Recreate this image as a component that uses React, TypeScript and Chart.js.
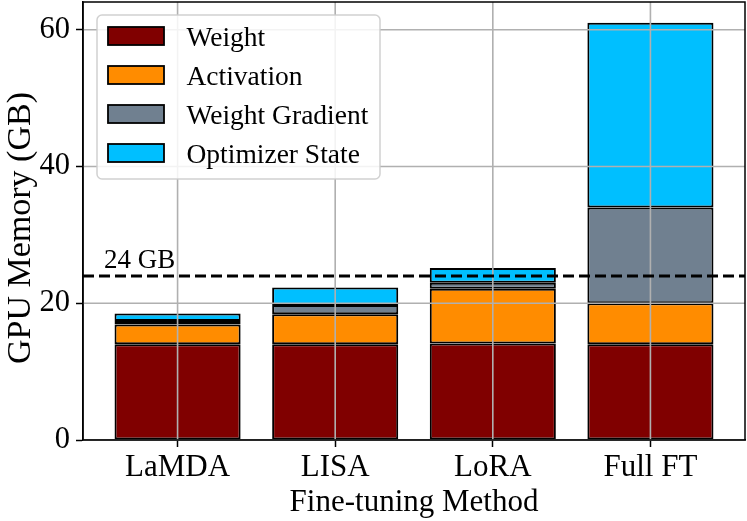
import { useEffect, useRef } from "react";
import { Chart, registerables } from "chart.js";

Chart.register(...registerables);

const categories = ["LaMDA", "LISA", "LoRA", "Full FT"];
const seriesNames = ["Weight", "Activation", "Weight Gradient", "Optimizer State"];
const weight = [14.0, 14.0, 14.1, 14.0];
const activation = [2.9, 4.4, 8.0, 6.0];
const weightGradient = [0.5, 1.35, 0.9, 14.0];
const optimizerState = [1.1, 2.55, 2.15, 27.0];
const yTicks = [0, 20, 40, 60];
const limitValue = 24;
const limitLabel = "24 GB";
const xTitle = "Fine-tuning Method";
const yTitle = "GPU Memory (GB)";

const colors = ["#800000", "#ff8c00", "#708090", "#00bfff"];
const FONT = "'Liberation Serif', 'Times New Roman', serif";

const overlay = {
  id: "overlay",
  afterDatasetsDraw(chart: any) {
    const { ctx, chartArea: a, scales } = chart;
    const xs = scales.x;
    const ys = scales.y;
    ctx.save();
    ctx.strokeStyle = "#b0b0b0";
    ctx.lineWidth = 1.6;
    ctx.beginPath();
    yTicks.forEach((v) => {
      const py = ys.getPixelForValue(v);
      ctx.moveTo(a.left, py);
      ctx.lineTo(a.right, py);
    });
    categories.forEach((_, i) => {
      const px = xs.getPixelForValue(i);
      ctx.moveTo(px, a.top);
      ctx.lineTo(px, a.bottom);
    });
    ctx.stroke();

    // limit line
    const ly = ys.getPixelForValue(limitValue);
    ctx.strokeStyle = "#000";
    ctx.lineWidth = 3;
    ctx.setLineDash([11, 5]);
    ctx.beginPath();
    ctx.moveTo(a.left, ly);
    ctx.lineTo(a.right, ly);
    ctx.stroke();
    ctx.setLineDash([]);

    ctx.fillStyle = "#000";
    ctx.font = `27px ${FONT}`;
    ctx.textBaseline = "alphabetic";
    ctx.textAlign = "left";
    ctx.fillText(limitLabel, a.left + 21, ly - 7.5);
    ctx.restore();
  },
  afterDraw(chart: any) {
    const { ctx, chartArea: a } = chart;
    ctx.save();
    // spines
    ctx.strokeStyle = "#000";
    ctx.lineWidth = 1.5;
    ctx.strokeRect(a.left, a.top, a.right - a.left, a.bottom - a.top);

    // y axis title
    ctx.save();
    ctx.translate(21.5, (a.top + a.bottom) / 2 + 7);
    ctx.rotate(-Math.PI / 2);
    ctx.fillStyle = "#000";
    ctx.font = `34px ${FONT}`;
    ctx.textAlign = "center";
    ctx.textBaseline = "middle";
    ctx.fillText(yTitle, 0, 0);
    ctx.restore();

    // legend
    const lx = a.left + 14;
    const ly = a.top + 13;
    const lw = 283;
    const lh = 164;
    const r = 5;
    ctx.beginPath();
    ctx.moveTo(lx + r, ly);
    ctx.arcTo(lx + lw, ly, lx + lw, ly + lh, r);
    ctx.arcTo(lx + lw, ly + lh, lx, ly + lh, r);
    ctx.arcTo(lx, ly + lh, lx, ly, r);
    ctx.arcTo(lx, ly, lx + lw, ly, r);
    ctx.closePath();
    ctx.fillStyle = "rgba(255,255,255,0.85)";
    ctx.fill();
    ctx.strokeStyle = "rgba(204,204,204,0.9)";
    ctx.lineWidth = 1.5;
    ctx.stroke();

    chart.data.datasets.forEach((ds: any, i: number) => {
      const py = ly + 12 + 39 * i;
      ctx.fillStyle = ds.backgroundColor;
      ctx.fillRect(lx + 11, py, 56, 18);
      ctx.strokeStyle = "#000";
      ctx.lineWidth = 1.8;
      ctx.strokeRect(lx + 11, py, 56, 18);
      ctx.fillStyle = "#000";
      ctx.font = `27.5px ${FONT}`;
      ctx.textBaseline = "alphabetic";
      ctx.textAlign = "left";
      ctx.fillText(ds.label, lx + 89.5, py + 18.5);
    });
    ctx.restore();
  },
};

export default function App() {
  const ref = useRef<HTMLCanvasElement | null>(null);

  useEffect(() => {
    if (!ref.current) return;
    const series = [weight, activation, weightGradient, optimizerState];
    const chart = new Chart(ref.current, {
      type: "bar",
      data: {
        datasets: series.map((vals, s) => ({
          label: seriesNames[s],
          data: vals.map((v, i) => ({ x: i, y: v })),
          backgroundColor: colors[s],
          borderColor: "#000",
          borderWidth: 2,
          borderSkipped: false,
          barPercentage: 0.8,
          categoryPercentage: 1.0,
        })),
      },
      options: {
        responsive: false,
        animation: false,
        devicePixelRatio: 1,
        layout: { padding: { top: 2, right: 2, left: 0, bottom: 0 } },
        plugins: {
          legend: { display: false },
          tooltip: { enabled: false },
        },
        scales: {
          x: {
            type: "linear",
            stacked: true,
            offset: false,
            min: -0.6,
            max: 3.6,
            afterBuildTicks: (scale: any) => {
              scale.ticks = categories.map((_, i) => ({ value: i }));
            },
            afterFit: (scale: any) => {
              scale.height = 81;
              scale.paddingLeft = 0;
              scale.paddingRight = 0;
            },
            ticks: {
              color: "#000",
              font: { family: FONT, size: 31 },
              padding: 2,
              autoSkip: false,
              maxRotation: 0,
              callback: (v: any) => categories[v as number] ?? "",
            },
            grid: {
              offset: false,
              drawOnChartArea: false,
              drawTicks: true,
              tickLength: 7,
              tickColor: "#000",
              tickWidth: 1.5,
            },
            border: { display: true, color: "#000", width: 1.5 },
            title: {
              display: true,
              text: xTitle,
              color: "#000",
              font: { family: FONT, size: 31 },
              padding: { top: 0, bottom: 0 },
            },
          },
          y: {
            type: "linear",
            stacked: true,
            min: 0,
            max: 64.05,
            afterBuildTicks: (scale: any) => {
              scale.ticks = yTicks.map((v) => ({ value: v }));
            },
            afterFit: (scale: any) => {
              scale.width = 83;
              scale.paddingTop = 0;
              scale.paddingBottom = 0;
            },
            ticks: {
              color: "#000",
              font: { family: FONT, size: 30.5 },
              padding: 6,
            },
            grid: {
              drawOnChartArea: false,
              drawTicks: true,
              tickLength: 7,
              tickColor: "#000",
              tickWidth: 1.5,
            },
            border: { display: true, color: "#000", width: 1.5 },
            title: { display: false },
          },
        },
      },
      plugins: [overlay],
    } as any);
    return () => chart.destroy();
  }, []);

  return (
    <div style={{ position: "fixed", left: 0, top: 0, width: 747, height: 521, background: "#fff" }}>
      <canvas ref={ref} width={747} height={521} />
    </div>
  );
}
